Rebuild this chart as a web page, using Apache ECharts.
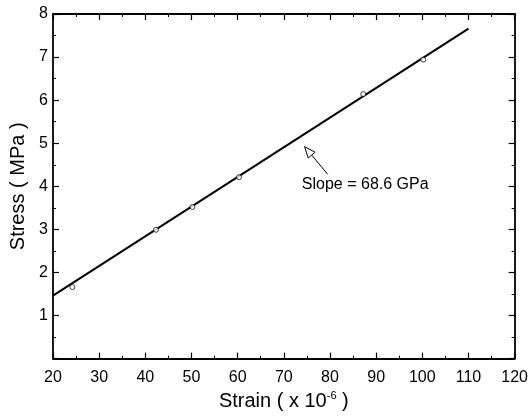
<!DOCTYPE html>
<html>
<head>
<meta charset="utf-8">
<script src="https://cdn.jsdelivr.net/npm/echarts@6/dist/echarts.min.js"></script>
<style>
  html, body { margin: 0; padding: 0; background: #fff; }
  #main { width: 531px; height: 416px; }
</style>
</head>
<body>
<div id="main"></div>
<script>
// measured points (strain x1e-6, stress MPa)
var strain = [24.2, 42.3, 50.2, 60.3, 87.2, 100.2];
var stress = [1.66, 2.99, 3.52, 4.21, 6.14, 6.94];
// fitted line end points
var fitStrain = [20, 110];
var fitStress = [1.46, 7.66];
// annotation: arrow tail -> tip, text anchor
var arrowFrom = [79.5, 4.28];
var arrowTo = [74.5, 4.92];
var noteAt = [73.9, 4.05];
var noteText = 'Slope = 68.6 GPa';

var font = 'Liberation Sans, Arial, sans-serif';

var pts = strain.map(function (s, i) { return [s, stress[i]]; });
var fit = fitStrain.map(function (s, i) { return [s, fitStress[i]]; });

var baseX = {
  type: 'value', min: 20, max: 120, interval: 10,
  axisLine: { show: true, onZero: false, lineStyle: { color: '#000', width: 1.8 } },
  axisTick: { show: true, inside: true, length: 6, lineStyle: { color: '#000', width: 1.2 } },
  minorTick: { show: true, splitNumber: 2, length: 3, lineStyle: { color: '#000', width: 1 } },
  splitLine: { show: false }
};
var baseY = {
  type: 'value', min: 0, max: 8, interval: 1,
  axisLine: { show: true, onZero: false, lineStyle: { color: '#000', width: 1.8 } },
  axisTick: { show: true, inside: true, length: 6, lineStyle: { color: '#000', width: 1.2 } },
  minorTick: { show: true, splitNumber: 2, length: 3, lineStyle: { color: '#000', width: 1 } },
  splitLine: { show: false }
};

var chart = echarts.init(document.getElementById('main'));
chart.setOption({
  backgroundColor: '#fff',
  animation: false,
  grid: { left: 52, right: 15, top: 14, bottom: 54 },
  xAxis: [
    Object.assign({}, baseX, {
      position: 'bottom',
      name: 'Strain ( x 10{s|-6} )',
      nameLocation: 'middle', nameGap: 31,
      nameTextStyle: {
        fontFamily: font, fontSize: 20, color: '#000',
        rich: { s: { fontFamily: font, fontSize: 11, color: '#000', verticalAlign: 'top', padding: [0, 0, 10, 0] } }
      },
      axisLabel: { fontFamily: font, fontSize: 16, color: '#000', margin: 11 }
    }),
    Object.assign({}, baseX, { position: 'top', axisLabel: { show: false } })
  ],
  yAxis: [
    Object.assign({}, baseY, {
      position: 'left',
      name: 'Stress ( MPa )',
      nameLocation: 'middle', nameGap: 25,
      nameTextStyle: { fontFamily: font, fontSize: 20, color: '#000' },
      axisLabel: {
        fontFamily: font, fontSize: 16, color: '#000', margin: 5,
        formatter: function (v) { return v === 0 ? '' : v; }
      }
    }),
    Object.assign({}, baseY, { position: 'right', axisLabel: { show: false } })
  ],
  series: [
    {
      type: 'line', data: fit, symbol: 'none',
      lineStyle: { color: '#000', width: 2 }, z: 3
    },
    {
      type: 'scatter', data: pts, symbol: 'circle', symbolSize: 5,
      itemStyle: { color: '#fff', borderColor: '#000', borderWidth: 0.9 }, z: 4
    },
    {
      type: 'custom', data: [[0, 0]], z: 5,
      renderItem: function (params, api) {
        var a = api.coord(arrowFrom), b = api.coord(arrowTo), t = api.coord(noteAt);
        var dx = b[0] - a[0], dy = b[1] - a[1];
        var len = Math.sqrt(dx * dx + dy * dy);
        var ux = dx / len, uy = dy / len;
        var hl = 11, hw = 4.5;
        var bx = b[0] - ux * hl, by = b[1] - uy * hl;
        return {
          type: 'group',
          children: [
            { type: 'line', shape: { x1: a[0], y1: a[1], x2: bx, y2: by }, style: { stroke: '#000', lineWidth: 1 } },
            {
              type: 'polygon',
              shape: { points: [[b[0], b[1]], [bx - uy * hw, by + ux * hw], [bx + uy * hw, by - ux * hw]] },
              style: { fill: '#fff', stroke: '#000', lineWidth: 1 }
            },
            {
              type: 'text', x: t[0], y: t[1],
              style: { text: noteText, font: '16px ' + font, fill: '#000', verticalAlign: 'middle', align: 'left' }
            }
          ]
        };
      }
    }
  ]
});
</script>
</body>
</html>
